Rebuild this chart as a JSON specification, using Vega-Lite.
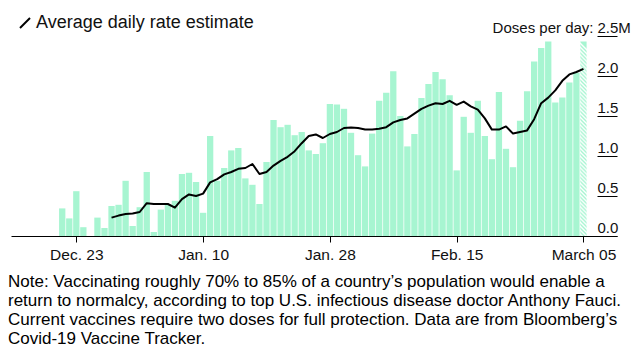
{
 "$schema": "https://vega.github.io/schema/vega-lite/v6.json",
 "width": 606,
 "height": 200,
 "autosize": {"type": "none"},
 "padding": {"left": 11, "top": 36, "right": 26, "bottom": 124},
 "background": "white",
 "config": {"view": {"stroke": null}, "font": "Liberation Sans"},
 "title": {
  "text": ["Note: Vaccinating roughly 70% to 85% of a country’s population would enable a", "return to normalcy, according to top U.S. infectious disease doctor Anthony Fauci.", "Current vaccines require two doses for full protection. Data are from Bloomberg’s", "Covid-19 Vaccine Tracker."],
  "orient": "bottom", "anchor": "start", "frame": "group", "fontSize": 17, "fontWeight": "normal", "color": "#000", "lineHeight": 19, "offset": 11, "dx": -3, "baseline": "top"
 },
 "data": {
  "format": {"parse": {"date": "date:'%Y-%m-%d'"}},
  "values": [
   {"date": "2020-12-21", "doses": 0.345},
   {"date": "2020-12-22", "doses": 0.22},
   {"date": "2020-12-23", "doses": 0.56},
   {"date": "2020-12-24", "doses": 0.11},
   {"date": "2020-12-26", "doses": 0.23},
   {"date": "2020-12-27", "doses": 0.10},
   {"date": "2020-12-28", "doses": 0.375, "avg": 0.23},
   {"date": "2020-12-29", "doses": 0.39, "avg": 0.255},
   {"date": "2020-12-30", "doses": 0.69, "avg": 0.275},
   {"date": "2020-12-31", "doses": 0.125, "avg": 0.28},
   {"date": "2021-01-01", "doses": 0.36, "avg": 0.30},
   {"date": "2021-01-02", "doses": 0.80, "avg": 0.41},
   {"date": "2021-01-03", "doses": 0.05, "avg": 0.40},
   {"date": "2021-01-04", "doses": 0.33, "avg": 0.40},
   {"date": "2021-01-05", "doses": 0.39, "avg": 0.40},
   {"date": "2021-01-06", "doses": 0.44, "avg": 0.355},
   {"date": "2021-01-07", "doses": 0.775, "avg": 0.46},
   {"date": "2021-01-08", "doses": 0.79, "avg": 0.52},
   {"date": "2021-01-09", "doses": 0.675, "avg": 0.50},
   {"date": "2021-01-10", "doses": 0.29, "avg": 0.53},
   {"date": "2021-01-11", "doses": 1.25, "avg": 0.67},
   {"date": "2021-01-12", "doses": 0.69, "avg": 0.71},
   {"date": "2021-01-13", "doses": 0.85, "avg": 0.77},
   {"date": "2021-01-14", "doses": 1.07, "avg": 0.80},
   {"date": "2021-01-15", "doses": 1.10, "avg": 0.84},
   {"date": "2021-01-16", "doses": 0.72, "avg": 0.85},
   {"date": "2021-01-17", "doses": 0.64, "avg": 0.90},
   {"date": "2021-01-18", "doses": 0.40, "avg": 0.775},
   {"date": "2021-01-19", "doses": 0.925, "avg": 0.80},
   {"date": "2021-01-20", "doses": 1.45, "avg": 0.88},
   {"date": "2021-01-21", "doses": 1.36, "avg": 0.94},
   {"date": "2021-01-22", "doses": 1.39, "avg": 0.99},
   {"date": "2021-01-23", "doses": 1.26, "avg": 1.06},
   {"date": "2021-01-24", "doses": 1.30, "avg": 1.16},
   {"date": "2021-01-25", "doses": 1.07, "avg": 1.25},
   {"date": "2021-01-26", "doses": 1.025, "avg": 1.27},
   {"date": "2021-01-27", "doses": 1.16, "avg": 1.225},
   {"date": "2021-01-28", "doses": 1.65, "avg": 1.275},
   {"date": "2021-01-29", "doses": 1.645, "avg": 1.30},
   {"date": "2021-01-30", "doses": 1.59, "avg": 1.35},
   {"date": "2021-01-31", "doses": 1.29, "avg": 1.355},
   {"date": "2021-02-01", "doses": 1.01, "avg": 1.35},
   {"date": "2021-02-02", "doses": 0.87, "avg": 1.33},
   {"date": "2021-02-03", "doses": 1.28, "avg": 1.33},
   {"date": "2021-02-04", "doses": 1.69, "avg": 1.34},
   {"date": "2021-02-05", "doses": 1.79, "avg": 1.36},
   {"date": "2021-02-06", "doses": 2.06, "avg": 1.42},
   {"date": "2021-02-07", "doses": 1.50, "avg": 1.45},
   {"date": "2021-02-08", "doses": 1.12, "avg": 1.47},
   {"date": "2021-02-09", "doses": 1.275, "avg": 1.53},
   {"date": "2021-02-10", "doses": 1.725, "avg": 1.59},
   {"date": "2021-02-11", "doses": 1.90, "avg": 1.63},
   {"date": "2021-02-12", "doses": 2.05, "avg": 1.66},
   {"date": "2021-02-13", "doses": 1.96, "avg": 1.65},
   {"date": "2021-02-14", "doses": 1.76, "avg": 1.69},
   {"date": "2021-02-15", "doses": 0.82, "avg": 1.64},
   {"date": "2021-02-16", "doses": 1.49, "avg": 1.68},
   {"date": "2021-02-17", "doses": 1.29, "avg": 1.62},
   {"date": "2021-02-18", "doses": 1.69, "avg": 1.58},
   {"date": "2021-02-19", "doses": 1.25, "avg": 1.47},
   {"date": "2021-02-20", "doses": 0.96, "avg": 1.33},
   {"date": "2021-02-21", "doses": 1.80, "avg": 1.33},
   {"date": "2021-02-22", "doses": 1.09, "avg": 1.37},
   {"date": "2021-02-23", "doses": 0.86, "avg": 1.28},
   {"date": "2021-02-24", "doses": 1.44, "avg": 1.30},
   {"date": "2021-02-25", "doses": 1.81, "avg": 1.32},
   {"date": "2021-02-26", "doses": 2.18, "avg": 1.46},
   {"date": "2021-02-27", "doses": 2.35, "avg": 1.66},
   {"date": "2021-02-28", "doses": 2.43, "avg": 1.73},
   {"date": "2021-03-01", "doses": 1.67, "avg": 1.82},
   {"date": "2021-03-02", "doses": 1.73, "avg": 1.94},
   {"date": "2021-03-03", "doses": 1.92, "avg": 2.02},
   {"date": "2021-03-04", "doses": 2.04, "avg": 2.05},
   {"date": "2021-03-05", "doses": 2.43, "avg": 2.09}
  ]
 },
 "encoding": {
  "x": {
   "field": "date", "type": "temporal",
   "scale": {"domain": [{"year": 2020, "month": 12, "date": 14, "hours": 10, "minutes": 30}, {"year": 2021, "month": 3, "date": 9, "hours": 1, "minutes": 15}]},
   "axis": {
    "title": null, "grid": false,
    "values": [{"year": 2020, "month": 12, "date": 23}, {"year": 2021, "month": 1, "date": 10}, {"year": 2021, "month": 1, "date": 28}, {"year": 2021, "month": 2, "date": 15}, {"year": 2021, "month": 3, "date": 5}],
    "labelExpr": "month(datum.value) == 2 ? 'March ' + timeFormat(datum.value, '%d') : timeFormat(datum.value, '%b. %d')",
    "domainColor": "#000", "domainWidth": 1, "tickColor": "#000", "tickSize": 6, "tickWidth": 1,
    "labelFontSize": 15.5, "labelColor": "#111", "labelPadding": 5, "labelFlush": false, "labelOverlap": false
   }
  },
  "y": {
   "field": "doses", "type": "quantitative",
   "scale": {"domain": [0, 2.5], "nice": false},
   "axis": {
    "orient": "right", "values": [0, 0.5, 1, 1.5, 2, 2.5], "domain": false, "grid": false,
    "tickSize": -20, "tickColor": "#000", "tickWidth": 1,
    "labelAlign": "left", "labelBaseline": "alphabetic", "labelOffset": -4, "labelPadding": 0,
    "labelFontSize": 15, "labelColor": "#111", "labelFlush": false, "labelOverlap": false, "labelBound": false,
    "labelExpr": "datum.value == 2.5 ? '2.5M' : format(datum.value, '.1f')",
    "title": "Doses per day:", "titleAngle": 0, "titleAlign": "right", "titleBaseline": "alphabetic",
    "titleX": -24, "titleY": -4, "titleFontSize": 15, "titleFontWeight": "normal", "titleColor": "#111"
   }
  }
 },
 "layer": [
  {
   "transform": [{"filter": "!(month(datum.date) == 2 && date(datum.date) == 5)"}],
   "mark": {"type": "bar", "width": 6.3, "fill": "#a7f5d1"}
  },
  {
   "transform": [{"filter": "month(datum.date) == 2 && date(datum.date) == 5"}],
   "mark": {
    "type": "bar", "width": 6.3,
    "fill": {
     "gradient": "linear", "x1": 0.0325, "y1": 0, "x2": 0, "y2": 1,
     "stops": [
      {"offset": 0.00, "color": "#a7f5d1"}, {"offset": 0.01, "color": "#ffffff"},
      {"offset": 0.02, "color": "#a7f5d1"}, {"offset": 0.03, "color": "#ffffff"},
      {"offset": 0.04, "color": "#a7f5d1"}, {"offset": 0.05, "color": "#ffffff"},
      {"offset": 0.06, "color": "#a7f5d1"}, {"offset": 0.07, "color": "#ffffff"},
      {"offset": 0.08, "color": "#a7f5d1"}, {"offset": 0.09, "color": "#ffffff"},
      {"offset": 0.10, "color": "#a7f5d1"}, {"offset": 0.11, "color": "#ffffff"},
      {"offset": 0.12, "color": "#a7f5d1"}, {"offset": 0.13, "color": "#ffffff"},
      {"offset": 0.14, "color": "#a7f5d1"}, {"offset": 0.15, "color": "#ffffff"},
      {"offset": 0.16, "color": "#a7f5d1"}, {"offset": 0.17, "color": "#ffffff"},
      {"offset": 0.18, "color": "#a7f5d1"}, {"offset": 0.19, "color": "#ffffff"},
      {"offset": 0.20, "color": "#a7f5d1"}, {"offset": 0.21, "color": "#ffffff"},
      {"offset": 0.22, "color": "#a7f5d1"}, {"offset": 0.23, "color": "#ffffff"},
      {"offset": 0.24, "color": "#a7f5d1"}, {"offset": 0.25, "color": "#ffffff"},
      {"offset": 0.26, "color": "#a7f5d1"}, {"offset": 0.27, "color": "#ffffff"},
      {"offset": 0.28, "color": "#a7f5d1"}, {"offset": 0.29, "color": "#ffffff"},
      {"offset": 0.30, "color": "#a7f5d1"}, {"offset": 0.31, "color": "#ffffff"},
      {"offset": 0.32, "color": "#a7f5d1"}, {"offset": 0.33, "color": "#ffffff"},
      {"offset": 0.34, "color": "#a7f5d1"}, {"offset": 0.35, "color": "#ffffff"},
      {"offset": 0.36, "color": "#a7f5d1"}, {"offset": 0.37, "color": "#ffffff"},
      {"offset": 0.38, "color": "#a7f5d1"}, {"offset": 0.39, "color": "#ffffff"},
      {"offset": 0.40, "color": "#a7f5d1"}, {"offset": 0.41, "color": "#ffffff"},
      {"offset": 0.42, "color": "#a7f5d1"}, {"offset": 0.43, "color": "#ffffff"},
      {"offset": 0.44, "color": "#a7f5d1"}, {"offset": 0.45, "color": "#ffffff"},
      {"offset": 0.46, "color": "#a7f5d1"}, {"offset": 0.47, "color": "#ffffff"},
      {"offset": 0.48, "color": "#a7f5d1"}, {"offset": 0.49, "color": "#ffffff"},
      {"offset": 0.50, "color": "#a7f5d1"}, {"offset": 0.51, "color": "#ffffff"},
      {"offset": 0.52, "color": "#a7f5d1"}, {"offset": 0.53, "color": "#ffffff"},
      {"offset": 0.54, "color": "#a7f5d1"}, {"offset": 0.55, "color": "#ffffff"},
      {"offset": 0.56, "color": "#a7f5d1"}, {"offset": 0.57, "color": "#ffffff"},
      {"offset": 0.58, "color": "#a7f5d1"}, {"offset": 0.59, "color": "#ffffff"},
      {"offset": 0.60, "color": "#a7f5d1"}, {"offset": 0.61, "color": "#ffffff"},
      {"offset": 0.62, "color": "#a7f5d1"}, {"offset": 0.63, "color": "#ffffff"},
      {"offset": 0.64, "color": "#a7f5d1"}, {"offset": 0.65, "color": "#ffffff"},
      {"offset": 0.66, "color": "#a7f5d1"}, {"offset": 0.67, "color": "#ffffff"},
      {"offset": 0.68, "color": "#a7f5d1"}, {"offset": 0.69, "color": "#ffffff"},
      {"offset": 0.70, "color": "#a7f5d1"}, {"offset": 0.71, "color": "#ffffff"},
      {"offset": 0.72, "color": "#a7f5d1"}, {"offset": 0.73, "color": "#ffffff"},
      {"offset": 0.74, "color": "#a7f5d1"}, {"offset": 0.75, "color": "#ffffff"},
      {"offset": 0.76, "color": "#a7f5d1"}, {"offset": 0.77, "color": "#ffffff"},
      {"offset": 0.78, "color": "#a7f5d1"}, {"offset": 0.79, "color": "#ffffff"},
      {"offset": 0.80, "color": "#a7f5d1"}, {"offset": 0.81, "color": "#ffffff"},
      {"offset": 0.82, "color": "#a7f5d1"}, {"offset": 0.83, "color": "#ffffff"},
      {"offset": 0.84, "color": "#a7f5d1"}, {"offset": 0.85, "color": "#ffffff"},
      {"offset": 0.86, "color": "#a7f5d1"}, {"offset": 0.87, "color": "#ffffff"},
      {"offset": 0.88, "color": "#a7f5d1"}, {"offset": 0.89, "color": "#ffffff"},
      {"offset": 0.90, "color": "#a7f5d1"}, {"offset": 0.91, "color": "#ffffff"},
      {"offset": 0.92, "color": "#a7f5d1"}, {"offset": 0.93, "color": "#ffffff"},
      {"offset": 0.94, "color": "#a7f5d1"}, {"offset": 0.95, "color": "#ffffff"},
      {"offset": 0.96, "color": "#a7f5d1"}, {"offset": 0.97, "color": "#ffffff"},
      {"offset": 0.98, "color": "#a7f5d1"}, {"offset": 0.99, "color": "#ffffff"},
      {"offset": 1.00, "color": "#a7f5d1"}
     ]
    }
   }
  },
  {
   "mark": {"type": "line", "strokeWidth": 2, "strokeJoin": "round"},
   "encoding": {
    "y": {
     "field": "avg", "type": "quantitative",
     "scale": {"domain": [0, 2.5], "nice": false},
     "axis": {
      "orient": "right", "values": [0, 0.5, 1, 1.5, 2, 2.5], "domain": false, "grid": false,
      "tickSize": -20, "tickColor": "#000", "tickWidth": 1,
      "labelAlign": "left", "labelBaseline": "alphabetic", "labelOffset": -4, "labelPadding": 0,
      "labelFontSize": 15, "labelColor": "#111", "labelFlush": false, "labelOverlap": false, "labelBound": false,
      "labelExpr": "datum.value == 2.5 ? '2.5M' : format(datum.value, '.1f')",
      "title": "Doses per day:", "titleAngle": 0, "titleAlign": "right", "titleBaseline": "alphabetic",
      "titleX": -24, "titleY": -4, "titleFontSize": 15, "titleFontWeight": "normal", "titleColor": "#111"
     }
    },
    "stroke": {
     "datum": "Average daily rate estimate", "type": "nominal",
     "scale": {"range": ["#000000"]},
     "legend": {
      "orient": "none", "legendX": 5, "legendY": -22, "title": null, "padding": 0,
      "symbolType": "M-1,1L1,-1", "symbolSize": 100, "symbolStrokeWidth": 2,
      "labelFontSize": 18, "labelOffset": 2, "labelColor": "#111", "labelLimit": 400
     }
    }
   }
  }
 ]
}
